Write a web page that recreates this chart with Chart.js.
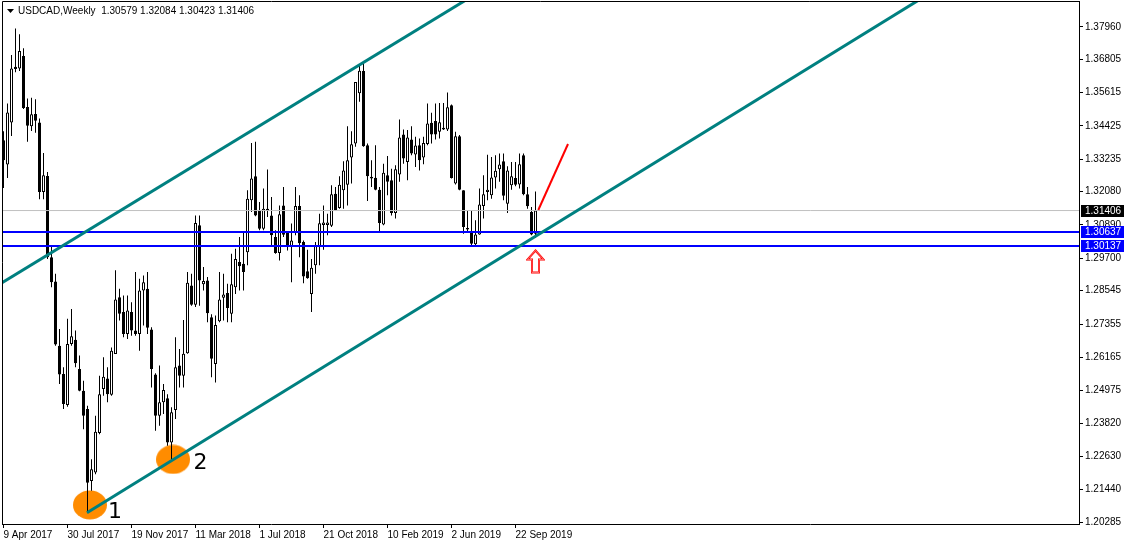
<!DOCTYPE html>
<html>
<head>
<meta charset="utf-8">
<title>USDCAD Weekly</title>
<script src="https://cdn.jsdelivr.net/npm/chart.js@4.4.1/dist/chart.umd.min.js"></script>
<style>
  html, body { margin: 0; padding: 0; background: #fff; }
  canvas { display: block; }
</style>
</head>
<body>
<canvas id="chart" width="1125" height="546"></canvas>
<script>
const symbol = "USDCAD,Weekly";

// weekly candles, first bar = week of 9 Apr 2017
const opens = [
  1.3392, 1.3305, 1.3455, 1.3654, 1.3648, 1.3692, 1.3510, 1.3442, 1.3485, 1.3455,
  1.3207, 1.3264, 1.2974, 1.2887, 1.2658, 1.2557, 1.2446, 1.2664, 1.2679, 1.2575,
  1.2497, 1.2432, 1.2175, 1.2205, 1.2346, 1.2503, 1.2541, 1.2483, 1.2628, 1.2831,
  1.2778, 1.2700, 1.2778, 1.2712, 1.2700, 1.2855, 1.2861, 1.2716, 1.2555, 1.2408,
  1.2456, 1.2470, 1.2312, 1.2428, 1.2587, 1.2551, 1.2631, 1.2873, 1.2804, 1.3088,
  1.2877, 1.2891, 1.2760, 1.2593, 1.2745, 1.2829, 1.2846, 1.2772, 1.2867, 1.2957,
  1.2951, 1.2992, 1.3177, 1.3263, 1.3141, 1.3076, 1.3147, 1.3123, 1.3046, 1.2989,
  1.3159, 1.3060, 1.3010, 1.3064, 1.3157, 1.3028, 1.2924, 1.2843, 1.2945, 1.3014,
  1.3089, 1.3089, 1.3086, 1.3201, 1.3150, 1.3213, 1.3233, 1.3330, 1.3380, 1.3559,
  1.3639, 1.3374, 1.3261, 1.3258, 1.3215, 1.3091, 1.3267, 1.3249, 1.3132, 1.3269,
  1.3412, 1.3314, 1.3394, 1.3341, 1.3374, 1.3330, 1.3378, 1.3454, 1.3460, 1.3422,
  1.3436, 1.3430, 1.3517, 1.3237, 1.3406, 1.3213, 1.3078, 1.3064, 1.3020, 1.3055,
  1.3157, 1.3207, 1.3195, 1.3259, 1.3288, 1.3317, 1.3165, 1.3231, 1.3257, 1.3234,
  1.3338, 1.3199, 1.3135, 1.30579
];
const highs = [
  1.3424, 1.3523, 1.3696, 1.3791, 1.3770, 1.3720, 1.3541, 1.3543, 1.3538, 1.3469,
  1.3346, 1.3278, 1.3016, 1.2915, 1.2718, 1.2581, 1.2754, 1.2789, 1.2712, 1.2623,
  1.2533, 1.2444, 1.2253, 1.2408, 1.2551, 1.2617, 1.2581, 1.2652, 1.2927, 1.2861,
  1.2837, 1.2837, 1.2813, 1.2921, 1.2897, 1.2909, 1.2921, 1.2724, 1.2560, 1.2587,
  1.2521, 1.2485, 1.2438, 1.2688, 1.2646, 1.2750, 1.2921, 1.2915, 1.3123, 1.3123,
  1.2939, 1.2903, 1.2770, 1.2766, 1.2921, 1.2915, 1.2879, 1.2986, 1.3004, 1.3046,
  1.3064, 1.3213, 1.3382, 1.3386, 1.3171, 1.3219, 1.3287, 1.3189, 1.3070, 1.3159,
  1.3225, 1.3064, 1.3094, 1.3225, 1.3195, 1.3034, 1.3001, 1.2968, 1.3028, 1.3129,
  1.3159, 1.3129, 1.3231, 1.3225, 1.3263, 1.3317, 1.3442, 1.3424, 1.3600, 1.3662,
  1.3666, 1.3380, 1.3320, 1.3374, 1.3225, 1.3308, 1.3335, 1.3290, 1.3302, 1.3466,
  1.3430, 1.3428, 1.3442, 1.3404, 1.3398, 1.3404, 1.3523, 1.3490, 1.3523, 1.3525,
  1.3525, 1.3562, 1.3519, 1.3422, 1.3410, 1.3213, 1.3141, 1.3141, 1.3106, 1.3219,
  1.3267, 1.3340, 1.3332, 1.3338, 1.3344, 1.3344, 1.3299, 1.3314, 1.3314, 1.3344,
  1.3344, 1.3225, 1.3153, 1.32084
];
const lows = [
  1.3221, 1.3257, 1.3407, 1.3634, 1.3639, 1.3503, 1.3386, 1.3425, 1.3418, 1.3181,
  1.3181, 1.2968, 1.2867, 1.2658, 1.2521, 1.2432, 1.2440, 1.2658, 1.2581, 1.2495,
  1.2360, 1.2062, 1.2140, 1.2199, 1.2342, 1.2479, 1.2456, 1.2479, 1.2628, 1.2748,
  1.2688, 1.2682, 1.2694, 1.2694, 1.2640, 1.2730, 1.2700, 1.2509, 1.2354, 1.2372,
  1.2414, 1.2301, 1.2245, 1.2396, 1.2509, 1.2509, 1.2629, 1.2801, 1.2796, 1.2801,
  1.2855, 1.2742, 1.2545, 1.2527, 1.2742, 1.2748, 1.2742, 1.2742, 1.2843, 1.2855,
  1.2855, 1.2945, 1.3135, 1.3120, 1.3070, 1.3070, 1.3118, 1.3016, 1.2986, 1.2962,
  1.3046, 1.2998, 1.2885, 1.3052, 1.2974, 1.2881, 1.2897, 1.2778, 1.2915, 1.2945,
  1.3001, 1.3052, 1.3082, 1.3139, 1.3147, 1.3147, 1.3159, 1.3237, 1.3368, 1.3529,
  1.3368, 1.3175, 1.3225, 1.3213, 1.3064, 1.3088, 1.3195, 1.3123, 1.3112, 1.3243,
  1.3308, 1.3249, 1.3338, 1.3296, 1.3284, 1.3306, 1.3374, 1.3380, 1.3394, 1.3398,
  1.3428, 1.3425, 1.3255, 1.3234, 1.3213, 1.3058, 1.3064, 1.3016, 1.3014, 1.3054,
  1.3112, 1.3177, 1.3183, 1.3219, 1.3243, 1.3177, 1.3132, 1.3215, 1.3227, 1.3219,
  1.3195, 1.3147, 1.3052, 1.30423
];
const closes = [
  1.3320, 1.3491, 1.3648, 1.3646, 1.3710, 1.3507, 1.3443, 1.3484, 1.3461, 1.3207,
  1.3267, 1.2974, 1.2885, 1.2662, 1.2555, 1.2450, 1.2664, 1.2692, 1.2595, 1.2497,
  1.2408, 1.2169, 1.2217, 1.2351, 1.2485, 1.2547, 1.2485, 1.2640, 1.2823, 1.2772,
  1.2700, 1.2784, 1.2712, 1.2700, 1.2855, 1.2885, 1.2722, 1.2575, 1.2408, 1.2456,
  1.2500, 1.2312, 1.2420, 1.2581, 1.2551, 1.2629, 1.2883, 1.2804, 1.3096, 1.2891,
  1.2889, 1.2774, 1.2611, 1.2732, 1.2823, 1.2841, 1.2793, 1.2877, 1.2968, 1.2942,
  1.2921, 1.3183, 1.3255, 1.3123, 1.3076, 1.3147, 1.3139, 1.3052, 1.2989, 1.3127,
  1.3054, 1.3013, 1.3034, 1.3157, 1.3024, 1.2905, 1.2899, 1.2936, 1.3016, 1.3095,
  1.3098, 1.3098, 1.3199, 1.3141, 1.3233, 1.3284, 1.3320, 1.3377, 1.3600, 1.3640,
  1.3370, 1.3263, 1.3255, 1.3215, 1.3096, 1.3276, 1.3243, 1.3132, 1.3288, 1.3401,
  1.3326, 1.3401, 1.3344, 1.3373, 1.3320, 1.3382, 1.3451, 1.3412, 1.3412, 1.3456,
  1.3430, 1.3509, 1.3257, 1.3406, 1.3215, 1.3082, 1.3073, 1.3022, 1.3055, 1.3162,
  1.3199, 1.3215, 1.3259, 1.3283, 1.3305, 1.3193, 1.3284, 1.3263, 1.3233, 1.3306,
  1.3199, 1.3156, 1.3055, 1.31406
];

// axis ticks
const xTickIndex = [0, 16, 32, 48, 64, 80, 96, 112, 128];
const xTickLabels = ["9 Apr 2017", "30 Jul 2017", "19 Nov 2017", "11 Mar 2018", "1 Jul 2018",
  "21 Oct 2018", "10 Feb 2019", "2 Jun 2019", "22 Sep 2019"];
const yTicks = [1.37960, 1.36805, 1.35615, 1.34425, 1.33235, 1.32080, 1.30890, 1.29700,
  1.28545, 1.27355, 1.26165, 1.24975, 1.23820, 1.22630, 1.21440, 1.20285];

// drawn objects, as [bar index, price]
const upperChannel = [[-2, 1.28685], [130, 1.40177]];
const lowerChannel = [[20.875, 1.20617], [268.875, 1.42448]];
const redTrend = [[133.7, 1.31426], [141.125, 1.33782]];
const bidLevel = 1.31406;
const supportLevels = [1.30637, 1.30137];
const touchPoints = [[21.6, 1.20895], [42.4, 1.22520]];
const touchLabels = ["1", "2"];
const labelPoints = [[27.875, 1.20642], [49.25, 1.22374]];
const arrowPoint = [133, 1.29587];

Chart.defaults.font.family = '"Liberation Sans", Arial, sans-serif';
Chart.defaults.font.size = 10;
Chart.defaults.color = "#000";

const fmt = v => v.toFixed(5);
const last = opens.length - 1;

function makeEllipse() {
  const c = document.createElement("canvas");
  c.width = 34; c.height = 30;
  const g = c.getContext("2d");
  g.fillStyle = "#ff8c00";
  g.beginPath();
  g.ellipse(17, 15, 17, 14.5, 0, 0, Math.PI * 2);
  g.fill();
  return c;
}

function makeArrow() {
  const c = document.createElement("canvas");
  c.width = 19; c.height = 25;
  const g = c.getContext("2d");
  g.beginPath();
  g.moveTo(9.5, 1.5);
  g.lineTo(17.5, 10.5);
  g.lineTo(13, 10.5);
  g.lineTo(13, 23.5);
  g.lineTo(6, 23.5);
  g.lineTo(6, 10.5);
  g.lineTo(1.5, 10.5);
  g.closePath();
  g.fillStyle = "#fff";
  g.fill();
  g.strokeStyle = "#ff0000";
  g.lineWidth = 2;
  g.stroke();
  g.strokeStyle = "#ffb0b0";
  g.lineWidth = 0.6;
  g.stroke();
  return c;
}

const toPts = arr => arr.map(p => ({ x: p[0], y: p[1] }));
const hLine = v => [{ x: -5, y: v }, { x: 300, y: v }];

const wicks = lows.map((l, i) => ({ x: i, y: [l, highs[i]] }));
const bodies = opens.map((o, i) => ({ x: i, y: [o, closes[i]] }));
const bodyColors = opens.map((o, i) => closes[i] >= o ? "#ffffff" : "#000000");

const lineDs = (data, color, width, order) => ({
  type: "line", data, borderColor: color, borderWidth: width,
  pointRadius: 0, tension: 0, fill: false, order
});

// frame, header text, numbers and price tags
const overlay = {
  id: "overlay",
  afterDraw(chart) {
    const { ctx, chartArea: a, scales: { x, y } } = chart;
    ctx.save();
    ctx.strokeStyle = "#000";
    ctx.lineWidth = 1;
    ctx.beginPath();
    ctx.moveTo(a.left + 0.5, a.bottom);
    ctx.lineTo(a.left + 0.5, a.top + 0.5);
    ctx.lineTo(a.right, a.top + 0.5);
    ctx.stroke();

    // header
    ctx.fillStyle = "#000";
    ctx.beginPath();
    ctx.moveTo(7, 9); ctx.lineTo(14, 9); ctx.lineTo(10.5, 13);
    ctx.closePath();
    ctx.fill();
    ctx.font = '10px "Liberation Sans", Arial, sans-serif';
    ctx.textBaseline = "middle";
    ctx.textAlign = "left";
    ctx.fillText(symbol + "  " + [opens[last], highs[last], lows[last], closes[last]].map(fmt).join(" "), 18, 11);

    // touch numbers
    ctx.font = '22px "DejaVu Sans", sans-serif';
    ctx.textAlign = "center";
    touchLabels.forEach((t, k) => {
      ctx.fillText(t, x.getPixelForValue(labelPoints[k][0]), y.getPixelForValue(labelPoints[k][1]));
    });

    // price tags on the right scale
    ctx.font = '10px "Liberation Sans", Arial, sans-serif';
    ctx.textAlign = "left";
    const tags = [[bidLevel, "#000000"], [supportLevels[0], "#0000ff"], [supportLevels[1], "#0000ff"]];
    tags.forEach(([v, bg]) => {
      const py = Math.round(y.getPixelForValue(v));
      ctx.fillStyle = bg;
      ctx.fillRect(a.right + 2, py - 6, 43, 12);
      ctx.fillStyle = "#fff";
      ctx.fillText(fmt(v), a.right + 6, py + 0.5);
    });
    ctx.restore();
  }
};

new Chart(document.getElementById("chart"), {
  type: "bar",
  data: {
    datasets: [
      {
        type: "line", data: toPts(touchPoints), showLine: false,
        pointStyle: makeEllipse(), pointRadius: 10, order: 20
      },
      {
        data: wicks, backgroundColor: "#000", borderWidth: 0,
        barThickness: 1, grouped: false, inflateAmount: 0, order: 10
      },
      {
        data: bodies, backgroundColor: bodyColors, borderColor: "#000", borderWidth: 1,
        borderSkipped: false, barThickness: 3, minBarLength: 1, grouped: false,
        inflateAmount: 0, order: 9
      },
      lineDs(hLine(bidLevel), "#c0c0c0", 1, 8),
      lineDs(hLine(supportLevels[0]), "#0000ff", 2, 3),
      lineDs(hLine(supportLevels[1]), "#0000ff", 2, 3),
      lineDs(toPts(upperChannel), "#008080", 3, 2),
      lineDs(toPts(lowerChannel), "#008080", 3, 2),
      lineDs(toPts(redTrend), "#ff0000", 2, 2),
      {
        type: "line", data: [{ x: arrowPoint[0], y: arrowPoint[1] }], showLine: false,
        pointStyle: makeArrow(), pointRadius: 10, order: 1
      }
    ]
  },
  options: {
    responsive: false,
    animation: false,
    events: [],
    layout: { autoPadding: false, padding: { left: 2, top: 1, right: 0, bottom: 0 } },
    plugins: { legend: { display: false }, tooltip: { enabled: false } },
    scales: {
      x: {
        type: "linear",
        min: -0.375,
        max: 268.875,
        offset: false,
        grid: { drawOnChartArea: false, drawTicks: true, tickLength: 4, color: "#000", offset: false },
        border: { display: true, color: "#000" },
        ticks: {
          autoSkip: false, maxRotation: 0, minRotation: 0, align: "start", padding: 1,
          callback: v => {
            const k = xTickIndex.indexOf(v);
            return k >= 0 ? xTickLabels[k] : "";
          }
        },
        afterBuildTicks: axis => { axis.ticks = xTickIndex.map(v => ({ value: v })); },
        afterFit: axis => {
          axis.height = 22;
          axis.paddingLeft = 0;
          axis.paddingRight = 0;
        }
      },
      y: {
        type: "linear",
        position: "right",
        min: 1.20214,
        max: 1.38888,
        grid: { drawOnChartArea: false, drawTicks: true, tickLength: 4, color: "#000" },
        border: { display: true, color: "#000" },
        ticks: { padding: 2, callback: v => fmt(v) },
        afterBuildTicks: axis => { axis.ticks = yTicks.map(v => ({ value: v })); },
        afterFit: axis => {
          axis.width = 46;
          axis.paddingTop = 0;
          axis.paddingBottom = 0;
        }
      }
    }
  },
  plugins: [overlay]
});
</script>
</body>
</html>
